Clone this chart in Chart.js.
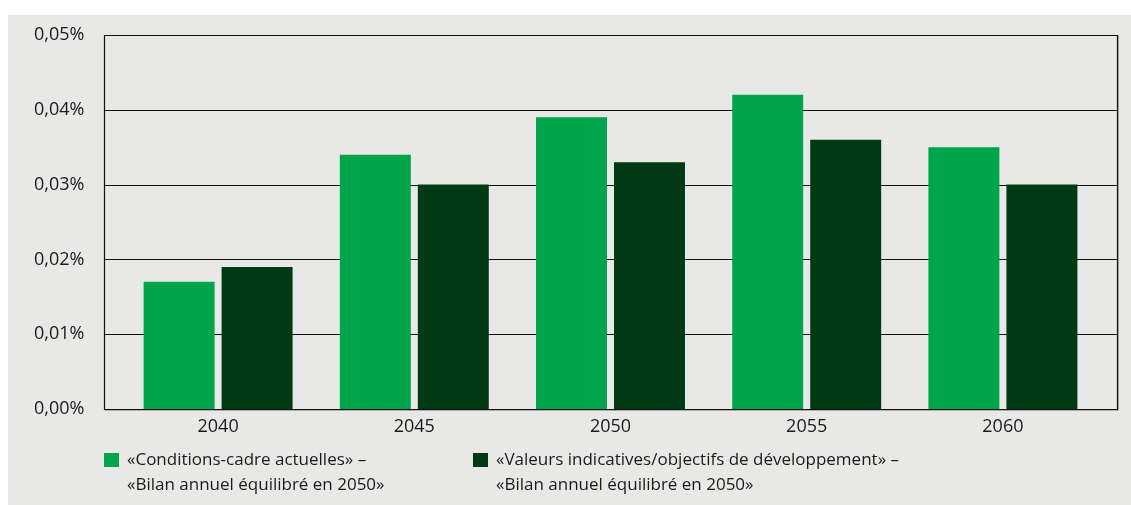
<!DOCTYPE html>
<html><head><meta charset="utf-8">
<script src="https://cdn.jsdelivr.net/npm/chart.js@4/dist/chart.umd.min.js"></script>
<style>
html,body{margin:0;padding:0;background:#fff;}
#wrap{position:absolute;left:8px;top:15px;width:1123px;height:490px;background:#e8e8e6;}
canvas{display:block;}
</style></head>
<body>
<div id="wrap"><canvas id="c" width="1123" height="490"></canvas></div>
<script>
const categories = ['2040', '2045', '2050', '2055', '2060'];
const seriesCurrent = [0.017, 0.034, 0.039, 0.042, 0.035];
const seriesTarget = [0.019, 0.030, 0.033, 0.036, 0.030];
const seriesLabelCurrent = ['«Conditions-cadre actuelles» –', '«Bilan annuel équilibré en 2050»'];
const seriesLabelTarget = ['«Valeurs indicatives/objectifs de développement» –', '«Bilan annuel équilibré en 2050»'];
const yTickValues = [0, 0.01, 0.02, 0.03, 0.04, 0.05];

const FONT = '"Open Sans", "Noto Sans", sans-serif';
const TEXT = '#1a1a1a';
const colorCurrent = '#00a44a';
const colorTarget = '#003a14';

const framePlugin = {
  id: 'frame',
  beforeDatasetsDraw(chart) {
    const ctx = chart.ctx, a = chart.chartArea, y = chart.scales.y;
    const L = a.left - 16, R = a.right + 16;
    ctx.save();
    ctx.strokeStyle = 'rgba(0,0,0,0.25)';
    ctx.lineWidth = 1;
    ctx.beginPath();
    ctx.moveTo(R + 1.5, a.top + 1); ctx.lineTo(R + 1.5, a.bottom + 1.5); ctx.lineTo(L + 1, a.bottom + 1.5);
    ctx.stroke();
    ctx.strokeStyle = '#111';
    ctx.lineWidth = 1.2;
    yTickValues.forEach(v => {
      const py = Math.round(y.getPixelForValue(v)) + 0.5;
      ctx.beginPath(); ctx.moveTo(L, py); ctx.lineTo(R + 1, py); ctx.stroke();
    });
    ctx.beginPath();
    ctx.moveTo(L + 0.5, Math.round(a.top) + 0.5); ctx.lineTo(L + 0.5, Math.round(a.bottom) + 0.5);
    ctx.moveTo(R + 0.5, Math.round(a.top) + 0.5); ctx.lineTo(R + 0.5, Math.round(a.bottom) + 0.5);
    ctx.stroke();
    ctx.restore();
  },
  afterDraw(chart) {
    const ctx = chart.ctx, a = chart.chartArea;
    const L = a.left - 16;
    const items = chart.data.datasets.map((d, i) => ({ color: d.backgroundColor, lines: d.legendLines, x: L + (i === 0 ? 0 : 369) }));
    ctx.save();
    ctx.font = '17px ' + FONT;
    ctx.textBaseline = 'middle';
    const top = a.bottom + 44;
    items.forEach(it => {
      ctx.fillStyle = it.color;
      ctx.fillRect(it.x, top, 15, 14);
      ctx.fillStyle = TEXT;
      it.lines.forEach((t, k) => ctx.fillText(t, it.x + 23, top + 7 + k * 25));
    });
    ctx.restore();
  }
};

new Chart(document.getElementById('c'), {
  type: 'bar',
  data: {
    labels: categories,
    datasets: [
      { label: seriesLabelCurrent.join(' '), legendLines: seriesLabelCurrent, data: seriesCurrent, backgroundColor: colorCurrent, categoryPercentage: 0.795, barPercentage: 0.91 },
      { label: seriesLabelTarget.join(' '), legendLines: seriesLabelTarget, data: seriesTarget, backgroundColor: colorTarget, categoryPercentage: 0.795, barPercentage: 0.91 }
    ]
  },
  options: {
    responsive: false,
    animation: false,
    layout: { padding: { top: 20, right: 30, left: 26, bottom: 0 } },
    plugins: { legend: { display: false }, tooltip: { enabled: false } },
    scales: {
      x: {
        grid: { display: false, drawTicks: false },
        border: { display: false },
        ticks: { color: TEXT, font: { family: FONT, size: 18 }, padding: 7 },
        afterFit(s) { s.height = 96; }
      },
      y: {
        min: 0, max: 0.05,
        grid: { display: false, drawTicks: false },
        border: { display: false },
        ticks: {
          stepSize: 0.01, color: TEXT, font: { family: FONT, size: 18 }, padding: 0, crossAlign: 'far',
          callback: v => v.toFixed(2).replace('.', ',') + '%'
        },
        afterFit(s) { s.width = 86; }
      }
    }
  },
  plugins: [framePlugin]
});
</script>
</body></html>
